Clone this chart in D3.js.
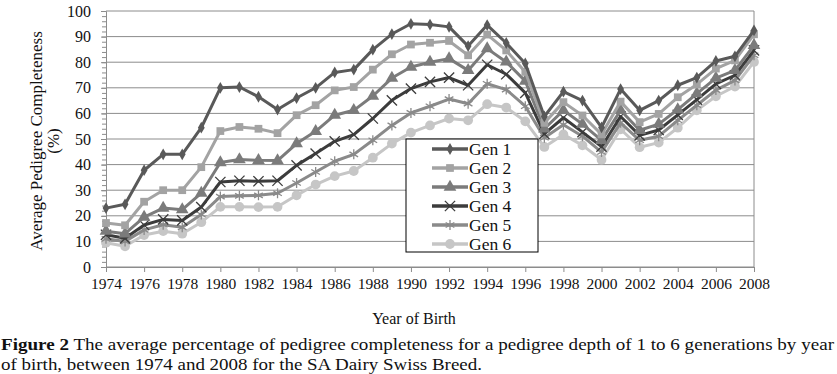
<!DOCTYPE html>
<html>
<head>
<meta charset="utf-8">
<script src="https://cdn.jsdelivr.net/npm/d3@7"></script>
<style>
    body { margin: 0; background: #fff; }
    text { font-family: "Liberation Serif", "Times New Roman", serif; fill: #111; }
    .grid line { stroke: #8c8c8c; stroke-width: 1; }
    .axis path, .axis line { stroke: #8c8c8c; }
</style>
</head>
<body>
<div id="chart"></div>
<script>
var years = d3.range(1974, 2009);
var xTickYears = d3.range(1974, 2009, 2);
var yTicks = [0, 10, 20, 30, 40, 50, 60, 70, 80, 90, 100];
var seriesNames = ["Gen 1", "Gen 2", "Gen 3", "Gen 4", "Gen 5", "Gen 6"];

var gen1 = [23, 24.5, 37.8, 44, 44, 54.4, 70, 70.3, 66.5, 61.5, 66, 70, 76, 77.1, 84.9, 91, 95, 94.7, 93.8, 86.3, 94.5, 87.5, 79.5, 58.8, 68.5, 65, 54.5, 69.5, 61.2, 65, 71, 74, 80.5, 82.3, 92.4];
var gen2 = [17.2, 16.3, 25.5, 30, 30, 39, 53.1, 54.7, 54, 52.3, 59.3, 63.2, 69, 70.3, 77.1, 83.1, 86.9, 87.6, 88.3, 82.7, 90.8, 84.6, 76.2, 56.3, 64.4, 59.2, 51.8, 64.6, 56.6, 59.8, 66.3, 71.3, 77.5, 80.7, 90.9];
var gen3 = [14, 13, 19.5, 23, 22.4, 28.9, 40.8, 42, 41.7, 41.6, 48.2, 53, 59.3, 61.2, 66.8, 73.8, 78.1, 80, 81.4, 76.8, 85.3, 80.1, 72.6, 54, 61.2, 55.8, 49.5, 61.2, 53.4, 55.8, 61.5, 67.7, 73.8, 76.8, 86.6];
var gen4 = [12.6, 11.2, 16.4, 18.6, 18.2, 23.4, 33.2, 33.7, 33.5, 33.7, 39.7, 44.3, 49.1, 51.7, 58, 65.1, 69.7, 72.3, 74, 71, 79, 75.3, 68, 52, 58.3, 52.7, 47, 58.8, 51.4, 53.5, 59.4, 65.4, 71.5, 74.9, 84.6];
var gen5 = [11, 10, 14.5, 16.5, 15.5, 20.5, 27.5, 27.8, 28, 28.8, 32.8, 37.1, 41.3, 44, 49.5, 55.3, 60.2, 62.8, 65.6, 63.8, 71.6, 69.3, 62.8, 50.5, 55.6, 51.1, 44.9, 56.3, 49.5, 51.1, 57.3, 63.2, 69.1, 72.9, 82.7];
var gen6 = [9.5, 8.1, 12.5, 14, 13, 17.5, 23.5, 23.5, 23.4, 23.5, 28, 32.2, 35.5, 37.5, 42.7, 48.2, 52.5, 55.3, 58, 57.3, 63.6, 62.3, 56.9, 46.9, 51.8, 47.5, 41.9, 53.8, 46.8, 48.6, 54.4, 61.2, 66.7, 70.5, 80.1];

var seriesValues = [gen1, gen2, gen3, gen4, gen5, gen6];

LineChart = function(_parentElement, _data) {
    this.parentElement = _parentElement;
    this.data = _data;
    this.initVis();
};

LineChart.prototype.initVis = function() {
    var vis = this;

    vis.margin = { top: 11, right: 83, bottom: 107, left: 106 };
    vis.outerWidth = 837;
    vis.outerHeight = 374;
    vis.width = vis.outerWidth - vis.margin.left - vis.margin.right;
    vis.height = vis.outerHeight - vis.margin.top - vis.margin.bottom;

    vis.root = d3.select('#' + vis.parentElement)
        .append('svg')
        .attr('width', vis.outerWidth)
        .attr('height', vis.outerHeight);

    vis.root.append('rect')
        .attr('width', vis.outerWidth)
        .attr('height', vis.outerHeight)
        .attr('fill', '#fff');

    vis.svg = vis.root.append('g')
        .attr('transform', "translate(" + vis.margin.left + "," + vis.margin.top + ")");

    vis.xScale = d3.scaleLinear()
        .domain([1974, 2008])
        .range([0, vis.width]);

    vis.yScale = d3.scaleLinear()
        .domain([0, 100])
        .range([vis.height, 0]);

    // horizontal gridlines
    vis.svg.append('g')
        .attr('class', 'grid')
        .selectAll('line')
        .data(yTicks)
        .enter()
        .append('line')
        .attr('x1', 0)
        .attr('x2', vis.width)
        .attr('y1', function(d) { return vis.yScale(d); })
        .attr('y2', function(d) { return vis.yScale(d); });

    // right border
    vis.svg.append('line')
        .attr('x1', vis.width).attr('x2', vis.width)
        .attr('y1', 0).attr('y2', vis.height)
        .attr('stroke', '#8c8c8c');

    // minor ticks on y axis
    vis.svg.append('g')
        .attr('class', 'axis')
        .call(d3.axisLeft(vis.yScale).tickValues(d3.range(0, 101, 2)).tickSize(4).tickFormat(''))
        .call(function(g) { g.select('.domain').remove(); });

    vis.yAxis = d3.axisLeft(vis.yScale)
        .tickValues(yTicks)
        .tickSize(5)
        .tickPadding(10);

    vis.xAxis = d3.axisBottom(vis.xScale)
        .tickValues(xTickYears)
        .tickFormat(d3.format('d'))
        .tickSize(5)
        .tickPadding(6);

    vis.svg.append('g')
        .attr('class', 'y-axis axis')
        .call(vis.yAxis)
        .selectAll('text')
        .style('font-size', '16px')
        .style('font-family', '"Liberation Serif", serif');

    vis.svg.append('g')
        .attr('class', 'x-axis axis')
        .attr('transform', "translate(0," + vis.height + ")")
        .call(vis.xAxis)
        .selectAll('text')
        .style('font-size', '15.5px')
        .style('font-family', '"Liberation Serif", serif')
        .attr('textLength', 31)
        .attr('lengthAdjust', 'spacingAndGlyphs');

    // axis titles
    vis.root.append('text')
        .attr('transform', 'translate(42,141) rotate(-90)')
        .attr('text-anchor', 'middle')
        .style('font-size', '17px')
        .text('Average Pedigree Completeness');

    vis.root.append('text')
        .attr('transform', 'translate(59,141) rotate(-90)')
        .attr('text-anchor', 'middle')
        .style('font-size', '17px')
        .text('(%)');

    vis.root.append('text')
        .attr('x', 414)
        .attr('y', 324)
        .attr('text-anchor', 'middle')
        .style('font-size', '16px')
        .text('Year of Birth');

    var cap1 = vis.root.append('text')
        .attr('x', 1)
        .attr('y', 350)
        .attr('textLength', 833)
        .attr('lengthAdjust', 'spacingAndGlyphs')
        .style('font-size', '17.5px');
    cap1.append('tspan').style('font-weight', 'bold').text('Figure 2');
    cap1.append('tspan').text(' The average percentage of pedigree completeness for a pedigree depth of 1 to 6 generations by year');

    vis.root.append('text')
        .attr('x', 1)
        .attr('y', 370)
        .attr('textLength', 481)
        .attr('lengthAdjust', 'spacingAndGlyphs')
        .style('font-size', '17.5px')
        .text('of birth, between 1974 and 2008 for the SA Dairy Swiss Breed.');

    vis.colors = ['#595959', '#a3a3a3', '#7b7b7b', '#3c3c3c', '#8a8a8a', '#c6c6c6'];
    vis.symbols = [
        { type: d3.symbolDiamond, size: 40, stroke: false },
        { type: d3.symbolSquare, size: 60, stroke: false },
        { type: d3.symbolTriangle, size: 70, stroke: false },
        { type: d3.symbolTimes, size: 70, stroke: true },
        { type: d3.symbolAsterisk, size: 70, stroke: true },
        { type: d3.symbolCircle, size: 75, stroke: false }
    ];

    vis.wrangleData();
};

LineChart.prototype.wrangleData = function() {
    var vis = this;

    vis.displayData = seriesNames.map(function(name, i) {
        return {
            name: name,
            index: i,
            values: years.map(function(y, j) { return { year: y, value: vis.data[i][j] }; })
        };
    });

    vis.updateChart();
};

LineChart.prototype.updateChart = function() {
    var vis = this;

    var line = d3.line()
        .x(function(d) { return vis.xScale(d.year); })
        .y(function(d) { return vis.yScale(d.value); });

    // draw the light series last so the stacking matches the original
    var series = vis.svg.selectAll('.series')
        .data(vis.displayData.slice().reverse())
        .enter()
        .append('g')
        .attr('class', 'series');

    series.append('path')
        .attr('d', function(d) { return line(d.values); })
        .attr('fill', 'none')
        .attr('stroke', function(d) { return vis.colors[d.index]; })
        .attr('stroke-width', 3)
        .attr('stroke-linejoin', 'round');

    series.each(function(s) {
        var sym = vis.symbols[s.index];
        d3.select(this).selectAll('.pt')
            .data(s.values)
            .enter()
            .append('path')
            .attr('class', 'pt')
            .attr('transform', function(d) {
                return "translate(" + vis.xScale(d.year) + "," + vis.yScale(d.value) + ")";
            })
            .attr('d', d3.symbol().type(sym.type).size(sym.size))
            .attr('fill', sym.stroke ? 'none' : vis.colors[s.index])
            .attr('stroke', sym.stroke ? vis.colors[s.index] : 'none')
            .attr('stroke-width', 1.3);
    });

    // legend
    var legend = vis.root.append('g')
        .attr('transform', 'translate(406,139)');

    legend.append('rect')
        .attr('width', 132)
        .attr('height', 113)
        .attr('fill', '#fff')
        .attr('stroke', '#000')
        .attr('stroke-width', 1);

    var row = legend.selectAll('.legend-row')
        .data(vis.displayData)
        .enter()
        .append('g')
        .attr('class', 'legend-row')
        .attr('transform', function(d, i) { return "translate(0," + (10 + i * 19) + ")"; });

    row.append('line')
        .attr('x1', 26).attr('x2', 62)
        .attr('y1', 0).attr('y2', 0)
        .attr('stroke', function(d) { return vis.colors[d.index]; })
        .attr('stroke-width', 3.5);

    row.append('path')
        .attr('transform', 'translate(44,0)')
        .attr('d', function(d) {
            var sym = vis.symbols[d.index];
            return d3.symbol().type(sym.type).size(sym.size)();
        })
        .attr('fill', function(d) { return vis.symbols[d.index].stroke ? 'none' : vis.colors[d.index]; })
        .attr('stroke', function(d) { return vis.symbols[d.index].stroke ? vis.colors[d.index] : 'none'; })
        .attr('stroke-width', 1.3);

    row.append('text')
        .attr('x', 63)
        .attr('y', 6)
        .style('font-size', '17.5px')
        .text(function(d) { return d.name; });
};

var chart = new LineChart('chart', seriesValues);
</script>
</body>
</html>
